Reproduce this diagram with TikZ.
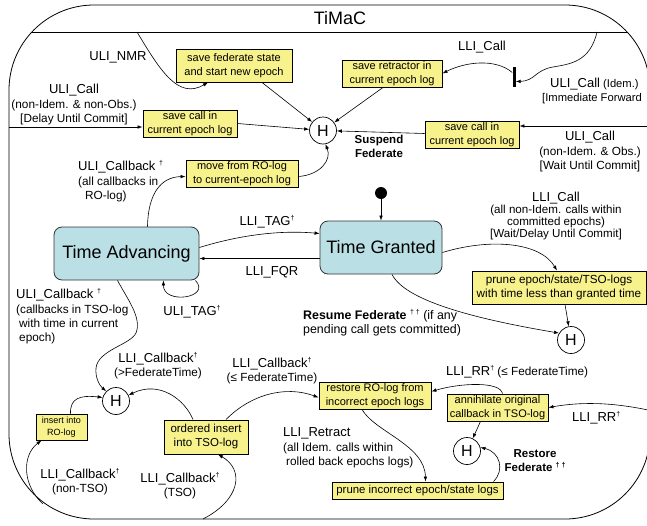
\documentclass[tikz,border=0pt]{standalone}
\usepackage{fontspec}
\setmainfont{Liberation Sans}
\usetikzlibrary{arrows.meta,calc}
\definecolor{ybox}{RGB}{247,242,140}
\definecolor{sbox}{RGB}{186,223,229}
\newcommand\mydag{\raisebox{0.4em}{\fontsize{7}{7}\selectfont †}}
\newcommand\fbig{\fontsize{13}{15}\selectfont}
\newcommand\fsm{\fontsize{11.8}{14}\selectfont}
\begin{document}
\begin{tikzpicture}[x=1pt,y=-1pt,
  arr/.style={-{Latex[length=5pt,width=3.6pt]}, line width=0.6pt},
  actbox/.style={draw=black, line width=0.9pt, fill=ybox, inner sep=0pt, align=center, font=\fontsize{11}{13.5}\selectfont},
  stbox/.style={draw=black!80, line width=0.8pt, fill=sbox, rounded corners=8pt, inner sep=0pt, font=\fontsize{18}{22}\selectfont},
  histc/.style={circle, draw, line width=0.7pt, fill=white, minimum size=27pt, inner sep=0pt, font=\fontsize{16}{16}\selectfont},
  lbl/.style={inner sep=0pt, font=\fsm, align=center},
  lbll/.style={inner sep=0pt, font=\fsm, align=left, anchor=west}]
\useasboundingbox (0,0) rectangle (647,525);
\clip (0,0) rectangle (647,525);
% outer frame
\draw[line width=0.8pt, rounded corners=85pt] (9,5) rectangle (650,519);
\begin{scope}
  \clip[rounded corners=85pt] (9,5) rectangle (650,519);
  \draw[line width=0.8pt] (0,32) -- (660,32);
\end{scope}
\node[inner sep=0pt, font=\fontsize{18}{20}\selectfont] (title) at (340,18) {TiMaC};

% action boxes
\node[actbox, minimum width=116pt, minimum height=33pt] (b1) at (234,65.5) {save federate state\\and start new epoch};
\node[actbox, minimum width=94pt, minimum height=27pt] (b2) at (190,123.5) {save call in\\current epoch log};
\node[actbox, minimum width=112pt, minimum height=27pt] (b3) at (242,173.5) {move from RO-log\\to current-epoch log};
\node[actbox, minimum width=100pt, minimum height=27pt] (b4) at (392,73.5) {save retractor in\\current epoch log};
\node[actbox, minimum width=94pt, minimum height=27pt] (b5) at (472,134.5) {save call in\\current epoch log};
\node[actbox, minimum width=174pt, minimum height=33pt, font=\fontsize{11.7}{14}\selectfont] (b6) at (559,287.5) {prune epoch/state/TSO-logs\\with time less than granted time};
\node[actbox, minimum width=51pt, minimum height=26pt, font=\fontsize{9}{11.5}\selectfont] (b7) at (61.5,427) {insert into\\RO-log};
\node[actbox, minimum width=84pt, minimum height=34pt, font=\fontsize{11.5}{14}\selectfont] (b8) at (206,437) {ordered insert\\into TSO-log};
\node[actbox, minimum width=112pt, minimum height=27pt] (b9) at (375,395.5) {restore RO-log from\\incorrect epoch logs};
\node[actbox, minimum width=101pt, minimum height=27pt] (b10) at (497.5,407.5) {annihilate original\\callback in TSO-log};
\node[actbox, minimum width=171pt, minimum height=17pt, font=\fontsize{11.4}{13.5}\selectfont] (b11) at (417.5,490.5) {prune incorrect epoch/state logs};

% states
\node[stbox, minimum width=145pt, minimum height=53pt] (ta) at (126.5,253.5) {Time Advancing};
\node[stbox, minimum width=122pt, minimum height=53pt] (tg) at (381,247.5) {Time Granted};
\node[circle, fill=black, inner sep=0pt, minimum size=12pt] (init) at (381,193) {};
\node[fill=black, inner sep=0pt, minimum width=3pt, minimum height=20pt] (bar) at (514,76.5) {};

% history nodes
\node[histc] (H1) at (323,130.5) {H};
\node[histc] (H2) at (571,340) {H};
\node[histc] (H3) at (116,401) {H};
\node[histc] (H4) at (467,451) {H};

% free ends
\coordinate (nmrS) at (137,32);
\coordinate (lEdge1) at (9,127);
\coordinate (lliTop) at (597,32);
\coordinate (rEdge1) at (650,126);
\coordinate (rEdge2) at (648,410);
\coordinate (blc) at (43,504);
\coordinate (bot) at (203,519);

% connectors
\draw[arr] (nmrS) .. controls (160,70) and (178,100) .. ($(b1.south)+(-26,0)$);
\draw[arr] ($(b1.south)+(28,0)$) -- (H1);
\draw[arr] (lEdge1) -- (b2.west |- lEdge1);
\draw[arr] (b2.east) -- (H1);
\draw[arr] ($(b3.east)+(0,3)$) .. controls (320,175) and (332,160) .. (H1.-80);
\draw[arr] ($(ta.north)+(21,0)$) .. controls (148,195) and (160,177) .. ($(b3.west)+(0,3)$);
\draw[arr] (lliTop) .. controls (590,62) and (570,64) .. (553,67) .. controls (535,70) and (535,81) .. ($(bar.east)+(0,5)$);
\draw[arr] ($(bar.west)+(0,-4)$) .. controls (495,58) and (465,62) .. (b4.east);
\draw[arr] ($(b4.south)+(-9,0)$) -- (H1);
\draw[arr] (rEdge1) -- (b5.east |- rEdge1);
\draw[arr] ($(b5.west)+(0,-1)$) -- (H1);
\draw[arr] (init) -- (tg.north);
\draw[arr] ($(ta.east)+(0,-6)$) .. controls (240,235) and (280,230) .. ($(tg.west)+(0,-14)$);
\draw[arr] ($(tg.west)+(0,11)$) coordinate (fq) -- (ta.east |- fq);
\draw[arr] ($(ta.south east)+(-4,0)$) .. controls (212,298) and (163,305) .. ($(ta.south)+(37,0)$);
\draw[arr] ($(tg.east)+(0,5)$) .. controls (490,238) and (540,242) .. ($(b6.north)+(-2,0)$);
\draw[arr] ($(b6.south)+(6,0)$) -- (H2);
\draw[arr] ($(tg.south)+(11,0)$) .. controls (405,300) and (470,318) .. (H2.150);
\draw[arr] ($(ta.south)+(-9,0)$) .. controls (128,300) and (142,318) .. (136,333) .. controls (130,345) and (98,350) .. (96,368) .. controls (95,378) and (100,386) .. (H3.north west);
\draw[arr] ($(b7.north)+(9,0)$) .. controls (70,398) and (80,395) .. (H3.165);
\draw[arr] (blc) .. controls (22,485) and (22,455) .. ($(b7.south)+(-20,0)$);
\draw[arr] (bot) .. controls (240,500) and (245,470) .. ($(b8.south)+(12,0)$);
\draw[arr] ($(b8.north)+(-13,0)$) .. controls (185,400) and (160,380) .. (H3.25);
\draw[arr] ($(b8.north)+(20,0)$) .. controls (250,395) and (285,385) .. ($(b9.west)+(0,2)$);
\draw[arr] ($(b10.north)+(5,0)$) .. controls (500,381) and (460,383) .. ($(b9.east)+(0,-4)$);
\draw[arr] (rEdge2) .. controls (610,402) and (580,402) .. (b10.east);
\draw[arr] ($(b10.south)+(-17,0)$) -- (H4);
\draw[arr] ($(b9.south)+(-13,0)$) .. controls (375,432) and (425,445) .. ($(b11.north)+(8,0)$);
\draw[arr] ($(b11.north)+(76,0)$) .. controls (505,470) and (500,452) .. (H4.15);

% labels
\node[lbl, font=\fbig] (lNMR) at (118,57) {ULI\_NMR};
\node[lbl] (lCallL) at (74,105) {{\fbig ULI\_Call}\\[1pt](non-Idem. \& non-Obs.)\\{[Delay Until Commit]}};
\node[lbll] (lCbRO) at (78,181) {{\fbig ULI\_Callback \mydag}\\[1pt](all callbacks in\\\hspace*{7pt}RO-log)};
\node[lbl, font=\fbig] (lLLItop) at (482,47) {LLI\_Call};
\node[lbll, font=\fontsize{11.2}{14}\selectfont] (lIdem) at (542,91) {\hspace*{8pt}{\fbig ULI\_Call} (Idem.)\\{[Immediate Forward}};
\node[lbl] (lCallR) at (590,152) {{\fbig ULI\_Call}\\[1pt](non-Idem. \& Obs.)\\{[Wait Until Commit]}};
\node[lbl, font=\fontsize{11.5}{14}\selectfont\bfseries] (lSusp) at (379,146) {Suspend\\Federate};
\node[lbl, font=\fbig] (lTAG) at (267,222) {LLI\_TAG\mydag};
\node[lbl, font=\fbig] (lFQR) at (272,272) {LLI\_FQR};
\node[lbl, font=\fbig] (lUTAG) at (192,312) {ULI\_TAG\mydag};
\node[lbll] (lCbTSO) at (16,316) {{\fbig ULI\_Callback \mydag}\\[1pt](callbacks in TSO-log\\\hspace*{3pt}with time in current\\\hspace*{3pt}epoch)};
\node[lbl, font=\fontsize{11.6}{10.5}\selectfont] (lCallM) at (556,216) {{\fbig LLI\_Call}\\(all non-Idem. calls within\\committed epochs)\\{[Wait/Delay Until Commit]}};
\node[lbll, font=\fontsize{12.4}{14}\selectfont] (lResume) at (303,323) {{\bfseries Resume Federate} \mydag\,\mydag{} (if any\\pending call gets committed)};
\node[lbl] (lCbGT) at (158,366) {{\fbig LLI\_Callback\mydag}\\(>FederateTime)};
\node[lbl] (lCbLE) at (272,371) {{\fbig LLI\_Callback\mydag}\\(≤ FederateTime)};
\node[lbl] (lCbNT) at (80,482) {{\fbig LLI\_Callback\mydag}\\(non-TSO)};
\node[lbl] (lCbT) at (180,486) {{\fbig LLI\_Callback\mydag}\\(TSO)};
\node[lbll] (lRetract) at (283,448) {{\fbig LLI\_Retract}\\[1pt](all Idem. calls within\\\hspace*{3pt}rolled back epochs logs)};
\node[lbll] (lRR1) at (446,372) {{\fbig LLI\_RR\mydag} (≤ FederateTime)};
\node[lbll] (lRR2) at (572,418) {{\fbig LLI\_RR\mydag}};
\node[lbl, font=\fontsize{11.5}{14}\selectfont\bfseries] (lRestore) at (535,461) {Restore\\Federate \mydag\,\mydag};
\end{tikzpicture}
\end{document}
